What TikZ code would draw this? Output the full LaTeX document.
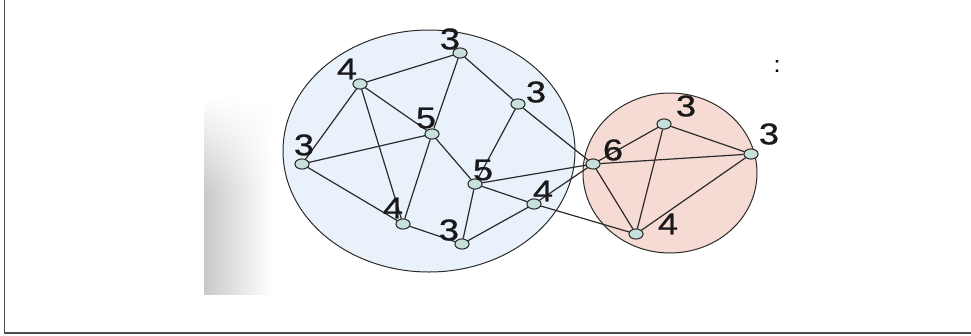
\documentclass[tikz,border=0pt]{standalone}
\usepackage{fontspec}
\setmainfont{Liberation Sans}
\newfontfamily\digitfont[FakeBold=0.8]{Liberation Sans}
\usepackage{graphicx}
\usepackage{tikz}
\usetikzlibrary{shapes.geometric,fadings}

\definecolor{setblue}{HTML}{E9F1FB}
\definecolor{setred}{HTML}{F6DBD4}
\definecolor{vfill}{HTML}{C8E0DC}
\definecolor{edgegray}{HTML}{2B2B2B}
\newcommand{\dg}[1]{\scalebox{1.2}[1]{#1}}

\begin{document}
\begin{tikzpicture}[x=1pt, y=-1pt,
    setbox/.style={draw=edgegray, ellipse, inner sep=0pt, line width=1pt},
    vert/.style={draw=edgegray, fill=vfill, ellipse, minimum width=14pt, minimum height=10pt, inner sep=0pt, line width=0.9pt},
    lbl/.style={inner sep=0pt, text=black!90, font=\digitfont\fontsize{30}{30}\selectfont},
    edge/.style={draw=edgegray, line width=1.2pt}]

    \useasboundingbox (0,0) rectangle (971,335);

    % Frame and shading
    \draw[gray!60!black, line width=1.3pt] (4.5,0) -- (4.5,333) -- (971,333);
    \shade[left color=gray!42, right color=white] (204,100) rectangle (272,294);
    \fill[white, path fading=south] (204,99) rectangle (272,190);

    % Sets
    \node[setbox, fill=setblue, minimum width=292pt, minimum height=242pt] (blueset) at (429,151) {};
    \node[setbox, fill=setred, minimum width=174pt, minimum height=160pt] (redset) at (670,173) {};

    % Vertices (blue set)
    \node[vert] (top) at (460,53) {};
    \node[vert] (ul) at (360,84) {};
    \node[vert] (ctr) at (432,134) {};
    \node[vert] (rt) at (518,104) {};
    \node[vert] (lft) at (302,164) {};
    \node[vert] (mid) at (475,184) {};
    \node[vert] (rl) at (534,204) {};
    \node[vert] (low) at (403,224) {};
    \node[vert] (bot) at (462,244) {};

    % Vertices (red set)
    \node[vert] (hub) at (593,164) {};
    \node[vert] (rtop) at (664,124) {};
    \node[vert] (rrt) at (751,154) {};
    \node[vert] (rbot) at (636,234) {};

    % Edges
    \path[edge] (ul) -- (top);
    \path[edge] (ul) -- (lft);
    \path[edge] (ul) -- (ctr);
    \path[edge] (ul) -- (low);
    \path[edge] (top) -- (ctr);
    \path[edge] (top) -- (rt);
    \path[edge] (rt) -- (mid);
    \path[edge] (rt) -- (hub);
    \path[edge] (ctr) -- (lft);
    \path[edge] (ctr) -- (low);
    \path[edge] (ctr) -- (mid);
    \path[edge] (lft) -- (low);
    \path[edge] (low) -- (bot);
    \path[edge] (bot) -- (mid);
    \path[edge] (bot) -- (rl);
    \path[edge] (mid) -- (rl);
    \path[edge] (mid) -- (hub);
    \path[edge] (rl) -- (hub);
    \path[edge] (rl) -- (rbot);
    \path[edge] (hub) -- (rtop);
    \path[edge] (hub) -- (rrt);
    \path[edge] (hub) -- (rbot);
    \path[edge] (rtop) -- (rrt);
    \path[edge] (rtop) -- (rbot);
    \path[edge] (rrt) -- (rbot);

    % Redraw vertices on top of edges
    \foreach \v in {top,ul,ctr,rt,lft,mid,rl,low,bot,hub,rtop,rrt,rbot}
        \node[vert] at (\v) {};

    % Degree labels
    \node[lbl] (ltop) at (450,39) {\dg{3}};
    \node[lbl] (lul) at (347,69) {\dg{4}};
    \node[lbl] (lctr) at (426,118) {\dg{5}};
    \node[lbl] (lrt) at (536,92) {\dg{3}};
    \node[lbl] (llft) at (304,145) {\dg{3}};
    \node[lbl] (lmid) at (483,170) {\dg{5}};
    \node[lbl] (lrl) at (543,191) {\dg{4}};
    \node[lbl] (llow) at (393,208) {\dg{4}};
    \node[lbl] (lbot) at (449,230) {\dg{3}};
    \node[lbl] (lhub) at (613,150) {\dg{6}};
    \node[lbl] (lrtop) at (686,106) {\dg{3}};
    \node[lbl] (lrrt) at (769,134) {\dg{3}};
    \node[lbl] (lrbot) at (668,224) {\dg{4}};

    % stray mark
    \node[inner sep=0pt, font=\digitfont\fontsize{22}{22}\selectfont] (mark) at (777,66) {:};
\end{tikzpicture}
\end{document}
